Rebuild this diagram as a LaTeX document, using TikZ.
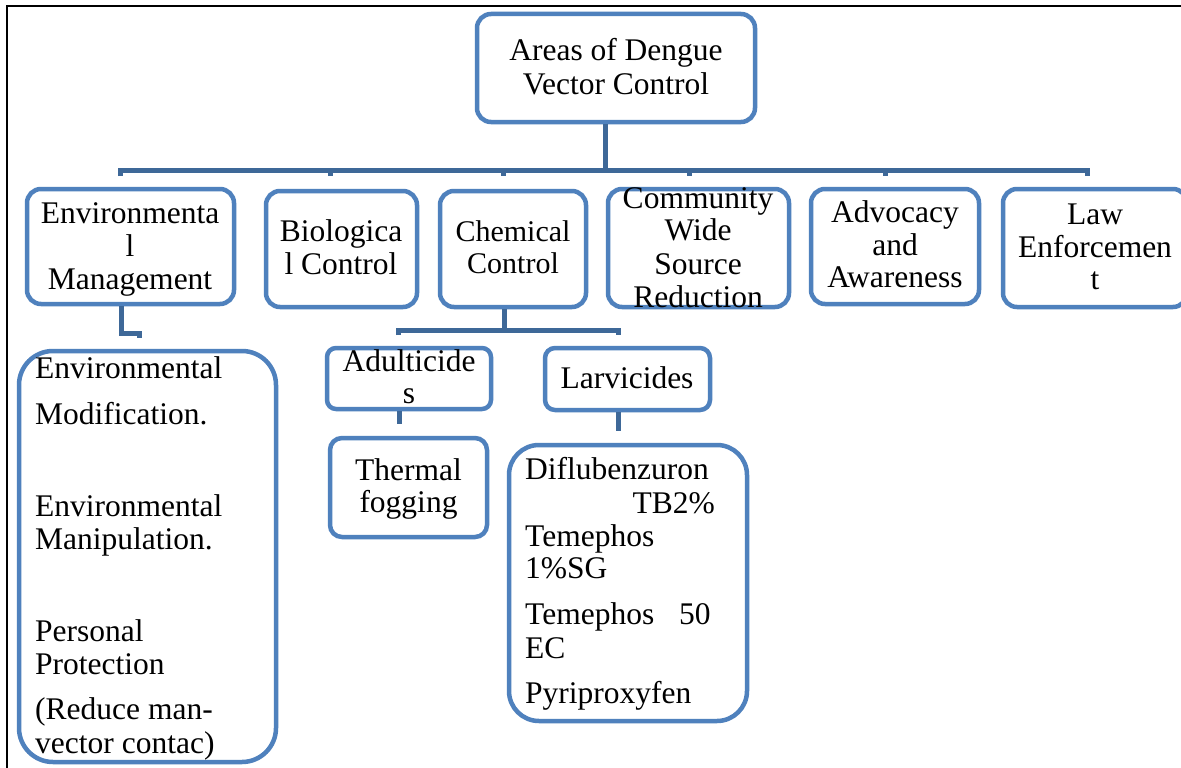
\documentclass[tikz,border=0pt]{standalone}
\usepackage{fontspec}
\setmainfont{Liberation Serif}
\definecolor{boxblue}{RGB}{79,129,189}
\definecolor{linkblue}{RGB}{62,104,152}
\begin{document}
\begin{tikzpicture}[x=1pt,y=-1pt,
  box/.style={draw=boxblue, line width=4.5pt, rounded corners=14pt, fill=white, inner sep=0pt},
  conn/.style={draw=linkblue, line width=5pt},
  txt/.style={inner sep=0pt, anchor=base, font=\fontsize{31.5}{36}\selectfont},
  stxt/.style={inner sep=0pt, anchor=base, font=\fontsize{30}{36}\selectfont},
  ltxt/.style={inner sep=0pt, anchor=base west, font=\fontsize{31.5}{36}\selectfont},
  rtxt/.style={inner sep=0pt, anchor=base east, font=\fontsize{31.5}{36}\selectfont}]
\useasboundingbox (0,0) rectangle (1181,768);
\fill[white] (0,0) rectangle (1181,768);
% frame
\draw[black, line width=2pt] (1200,6) -- (7,6) -- (7,780);

% boxes
\node[box, minimum width=278pt, minimum height=108pt] (root) at (616,68) {};
\node[box, minimum width=207pt, minimum height=115pt] (env) at (130.5,246.5) {};
\node[box, minimum width=151pt, minimum height=116pt] (bio) at (341.5,249) {};
\node[box, minimum width=146pt, minimum height=116pt] (chem) at (513,249) {};
\node[box, minimum width=181pt, minimum height=118pt] (comm) at (698.5,248) {};
\node[box, minimum width=168pt, minimum height=115pt] (adv) at (895,246.5) {};
\node[box, minimum width=184pt, minimum height=118pt] (law) at (1095,248) {};
\node[box, rounded corners=9pt, minimum width=164pt, minimum height=61pt] (adult) at (409,378.5) {};
\node[box, rounded corners=10pt, minimum width=165pt, minimum height=62pt] (larv) at (627.5,379) {};
\node[box, rounded corners=12pt, minimum width=157pt, minimum height=99pt] (therm) at (408.5,487.5) {};
\node[box, rounded corners=34pt, minimum width=257pt, minimum height=411pt] (envlist) at (147.5,556.5) {};
\node[box, rounded corners=30pt, minimum width=238pt, minimum height=276pt] (larvlist) at (628,583) {};

% connectors
\coordinate (rj) at (605,170);
\coordinate (barL) at (120,176);
\coordinate (barR) at (1087,176);
\coordinate (t1) at (330,176);
\coordinate (t2) at (503,176);
\coordinate (t3) at (689,176);
\coordinate (t4) at (885,176);
\draw[conn] (root.south -| rj) -- (rj);
\draw[conn] (barL) |- (rj) -| (barR);
\foreach \t in {t1,t2,t3,t4} \draw[conn] (\t |- rj) -- (\t);

\coordinate (envk) at (121,333);
\coordinate (envend) at (139,338);
\draw[conn] (env.south -| envk) -- (envk) -| (envend);

\coordinate (cj) at (504,330);
\coordinate (cbL) at (398,335);
\coordinate (cbR) at (618,335);
\draw[conn] (chem.south -| cj) -- (cj);
\draw[conn] (cbL) |- (cj) -| (cbR);

\coordinate (aend) at (399,424);
\draw[conn] (adult.south -| aend) -- (aend);
\coordinate (lend) at (618,431);
\draw[conn] (larv.south -| lend) -- (lend);

% texts
\node[txt] (root1) at (616,61) {Areas of Dengue};
\node[txt] (root2) at (616,94) {Vector Control};
\node[txt] (env1) at (130,223) {Environmenta};
\node[txt] (env2) at (130,256) {l};
\node[txt] (env3) at (130,289) {Management};
\node[txt] (bio1) at (341,241) {Biologica};
\node[txt] (bio2) at (341,274) {l Control};
\node[stxt] (chem1) at (513,241) {Chemical};
\node[stxt] (chem2) at (513,273) {Control};
\node[txt] (comm1) at (698,208) {Community};
\node[txt] (comm2) at (698,240) {Wide};
\node[txt] (comm3) at (698,274) {Source};
\node[txt] (comm4) at (698,307) {Reduction};
\node[txt] (adv1) at (895,222) {Advocacy};
\node[txt] (adv2) at (895,255) {and};
\node[txt] (adv3) at (895,287) {Awareness};
\node[txt] (law1) at (1095,224) {Law};
\node[txt] (law2) at (1095,257) {Enforcemen};
\node[txt] (law3) at (1095,289) {t};
\node[txt] (adult1) at (409,371) {Adulticide};
\node[txt] (adult2) at (409,403) {s};
\node[txt] (larv1) at (627,388) {Larvicides};
\node[txt] (therm1) at (408.5,480) {Thermal};
\node[txt] (therm2) at (408.5,512) {fogging};

\node[ltxt] (el1) at (35,378) {Environmental};
\node[ltxt] (el2) at (35,424) {Modification.};
\node[ltxt] (el3) at (35,516) {Environmental};
\node[ltxt] (el4) at (35,549) {Manipulation.};
\node[ltxt] (el5) at (35,641) {Personal};
\node[ltxt] (el6) at (35,674) {Protection};
\node[ltxt] (el7) at (35,719) {(Reduce man-};
\node[ltxt] (el8) at (35,753) {vector contac)};

\node[ltxt] (ll1) at (525,479) {Diflubenzuron};
\node[rtxt] (ll2) at (715,513) {TB2\%};
\node[ltxt] (ll3) at (525,546) {Temephos};
\node[ltxt] (ll4) at (525,578) {1\%SG};
\node[ltxt] (ll5) at (525,624) {Temephos};
\node[ltxt] (ll6) at (679,624) {50};
\node[ltxt] (ll7) at (525,658) {EC};
\node[ltxt] (ll8) at (525,703) {Pyriproxyfen};
\end{tikzpicture}
\end{document}
